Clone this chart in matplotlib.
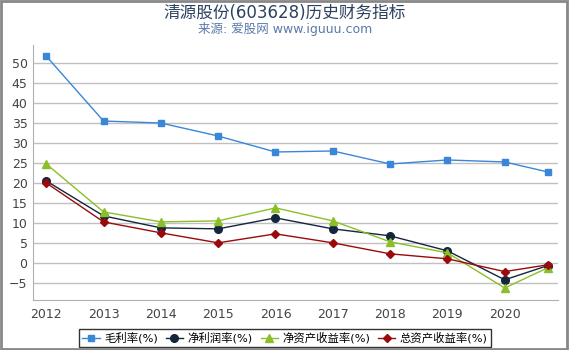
import matplotlib
matplotlib.use("Agg")
import matplotlib.pyplot as plt
from matplotlib.patches import Rectangle

plt.rcParams['font.family'] = ['DejaVu Sans', 'Noto Sans CJK SC']

# 年份（最后一个点为 2020 年之后的季度数据，无标签）
years = [2012, 2013, 2014, 2015, 2016, 2017, 2018, 2019, 2020, 2020.75]
tick_years = [2012, 2013, 2014, 2015, 2016, 2017, 2018, 2019, 2020]

gross_margin = [51.75, 35.5, 35.0, 31.75, 27.75, 28.0, 24.75, 25.75, 25.25, 22.75]
net_margin = [20.5, 11.75, 8.75, 8.5, 11.25, 8.5, 6.75, 3.0, -4.25, -0.7]
roe = [24.75, 12.75, 10.25, 10.5, 13.75, 10.5, 5.25, 2.5, -6.3, -1.25]
roa = [20.0, 10.25, 7.5, 5.0, 7.25, 5.0, 2.25, 1.0, -2.2, -0.5]

series = [
    ('毛利率(%)', gross_margin, '#3a87d8', 's', 5),
    ('净利润率(%)', net_margin, '#14253d', 'o', 5.5),
    ('净资产收益率(%)', roe, '#8bbf27', '^', 6),
    ('总资产收益率(%)', roa, '#9a0a0a', 'D', 4),
]

fig = plt.figure(figsize=(5.7, 3.5), dpi=100)
ax = fig.add_axes([0.058, 0.143, 0.921, 0.728])

for label, vals, color, marker, ms in series:
    ax.plot(years, vals, color=color, marker=marker, markersize=ms,
            linewidth=1, label=label)

ax.set_xlim(2011.77, 2020.93)
ax.set_ylim(-9.3, 54.5)
ax.set_xticks(tick_years)
ax.set_yticks(range(-5, 51, 5))
ax.grid(axis='y', color='#c0c0c0', linewidth=1)
ax.set_axisbelow(True)
for s in ['top', 'right']:
    ax.spines[s].set_visible(False)
for s in ['left', 'bottom']:
    ax.spines[s].set_color('#b0b0b0')
ax.tick_params(axis='both', length=0, labelsize=9, colors='#444444', pad=4)
ax.tick_params(axis='x', pad=6)

fig.text(0.5, 0.962, '清源股份(603628)历史财务指标', ha='center', va='center',
         fontsize=12, color='#2c4160')
fig.text(0.5, 0.918, '来源: 爱股网 www.iguuu.com', ha='center', va='center',
         fontsize=9, color='#5a7aa8')

leg = ax.legend(loc='lower center', bbox_to_anchor=(0.48, -0.186), ncol=4,
                fontsize=8.2, frameon=True, fancybox=False, handlelength=1.5,
                handletextpad=0.4, columnspacing=0.7, borderpad=0.3,
                borderaxespad=0)
leg.get_frame().set_edgecolor('black')
leg.get_frame().set_linewidth(1)

# 外边框
fig.patches.append(Rectangle((0.001, 0.004), 0.994, 0.994, transform=fig.transFigure,
                             fill=False, edgecolor='#888888', linewidth=2))

fig.savefig('out.png', dpi=100)
